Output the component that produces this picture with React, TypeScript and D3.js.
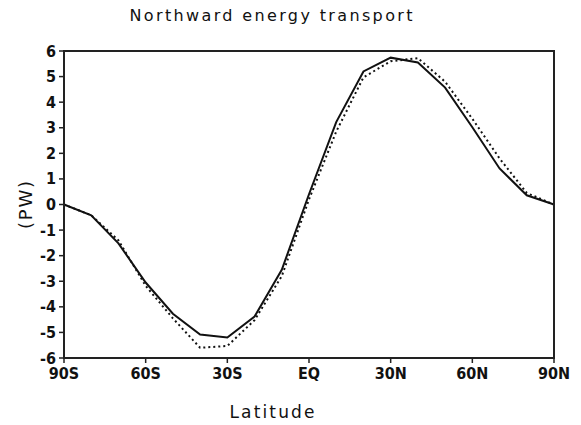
import React from "react";
import * as d3 from "d3";

const latitudes = [-90, -80, -70, -60, -50, -40, -30, -20, -10, 0, 10, 20, 30, 40, 50, 60, 70, 80, 90];
const solidSeries = [0, -0.42, -1.52, -3.05, -4.27, -5.08, -5.2, -4.38, -2.55, 0.4, 3.22, 5.2, 5.74, 5.55, 4.57, 3.02, 1.41, 0.36, 0];
const dottedSeries = [0, -0.42, -1.4, -3.18, -4.45, -5.6, -5.53, -4.52, -2.8, 0.2, 2.85, 4.97, 5.6, 5.72, 4.8, 3.35, 1.8, 0.45, 0];
const xTickValues = [-90, -60, -30, 0, 30, 60, 90];
const xTickLabels = ["90S", "60S", "30S", "EQ", "30N", "60N", "90N"];
const yTickValues = [-6, -5, -4, -3, -2, -1, 0, 1, 2, 3, 4, 5, 6];

export default function App() {
  const W = 581, H = 425;
  const left = 64, right = 554, top = 51, bottom = 358;
  const x = d3.scaleLinear().domain([-90, 90]).range([left, right]);
  const y = d3.scaleLinear().domain([-6, 6]).range([bottom, top]);
  const line = d3.line<number>().x((_, i) => x(latitudes[i])).y((d) => y(d));
  const tickFont = "'Liberation Sans Narrow', 'DejaVu Sans Condensed', sans-serif";
  return (
    <svg width={W} height={H} style={{ position: "absolute", left: 0, top: 0, background: "#fff" }}>
      <text x={271} y={21} fontFamily="'DejaVu Sans', sans-serif" fontSize={16} textLength={283} lengthAdjust="spacing" textAnchor="middle" fill="#111">
        Northward energy transport
      </text>
      <path d={line(dottedSeries) || ""} fill="none" stroke="#111" strokeWidth={2} strokeDasharray="2,3" />
      <path d={line(solidSeries) || ""} fill="none" stroke="#111" strokeWidth={2} />
      <rect x={left} y={top} width={right - left} height={bottom - top} fill="none" stroke="#222" strokeWidth={2} />
      {yTickValues.map((v) => (
        <g key={"y" + v}>
          <line x1={left - 5} x2={left} y1={y(v)} y2={y(v)} stroke="#222" strokeWidth={1.5} />
          <text x={left - 8} y={y(v) + 5.5} textAnchor="end" fontFamily={tickFont} fontWeight="bold" fontSize={16} fill="#111">
            {v}
          </text>
        </g>
      ))}
      {xTickValues.map((v, i) => (
        <g key={"x" + v}>
          <line x1={x(v)} x2={x(v)} y1={bottom} y2={bottom + 5} stroke="#222" strokeWidth={1.5} />
          <text x={x(v)} y={379} textAnchor="middle" fontFamily={tickFont} fontWeight="bold" fontSize={16} fill="#111">
            {xTickLabels[i]}
          </text>
        </g>
      ))}
      <text x={272} y={418} fontFamily="'DejaVu Sans', sans-serif" fontSize={17} textLength={85} lengthAdjust="spacing" textAnchor="middle" fill="#111">
        Latitude
      </text>
      <text transform="translate(32,205) rotate(-90)" fontFamily="'DejaVu Sans', sans-serif" fontSize={18} textLength={48} lengthAdjust="spacing" textAnchor="middle" fill="#111">
        (PW)
      </text>
    </svg>
  );
}
